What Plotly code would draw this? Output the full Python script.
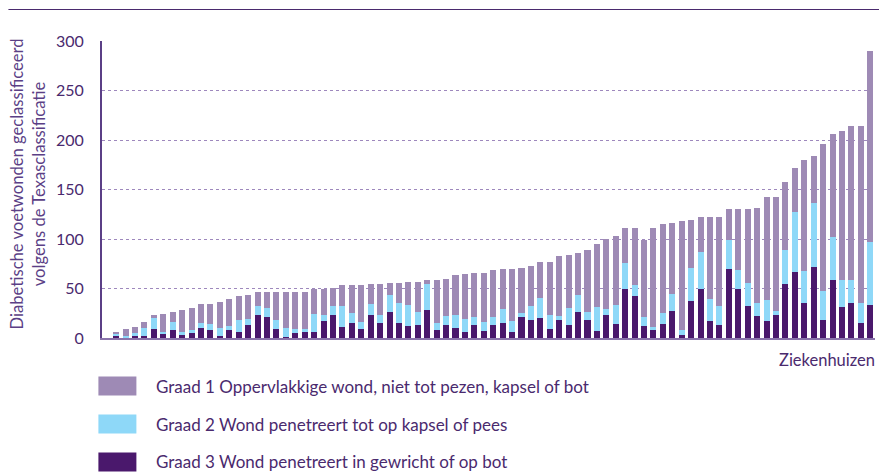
import plotly.graph_objects as go

# ziekenhuizen 1..81, gesorteerd op totaal
ziekenhuizen = [str(i) for i in range(1, 82)]

graad3 = [3, 0, 3, 2, 9, 5, 8, 4, 5, 10, 8, 2, 8, 6, 13, 23, 21, 9, 1, 5,
          6, 6, 17, 23, 11, 15, 9, 23, 15, 26, 15, 12, 13, 28, 8, 13, 10, 6, 13, 7,
          13, 15, 6, 21, 18, 20, 9, 18, 13, 26, 18, 7, 23, 14, 50, 42, 12, 8, 14, 27,
          3, 37, 49, 17, 13, 70, 49, 32, 22, 17, 23, 55, 67, 35, 72, 18, 59, 31, 35, 15,
          33]
graad2 = [2, 2, 2, 8, 11, 1, 8, 2, 3, 5, 6, 8, 4, 12, 6, 9, 9, 9, 9, 4,
          3, 18, 6, 9, 21, 10, 7, 11, 8, 17, 20, 21, 13, 27, 7, 9, 13, 13, 8, 9,
          8, 14, 11, 4, 14, 20, 14, 4, 17, 17, 8, 24, 6, 19, 26, 12, 9, 3, 11, 17,
          5, 34, 38, 22, 19, 29, 20, 24, 13, 21, 4, 34, 60, 33, 64, 29, 43, 28, 24, 20,
          64]
graad1 = [1, 7, 6, 6, 3, 18, 10, 22, 22, 19, 20, 26, 27, 24, 24, 14, 16, 28, 36, 37,
          37, 26, 27, 19, 22, 29, 38, 21, 32, 13, 21, 24, 31, 4, 44, 38, 41, 46, 45, 50,
          48, 41, 53, 46, 41, 37, 54, 61, 54, 43, 63, 64, 71, 70, 35, 57, 78, 100, 90, 72,
          110, 48, 35, 83, 90, 31, 61, 74, 96, 104, 115, 69, 45, 112, 48, 149, 104, 150, 155, 179,
          193]

reeksen = [
    ("Graad 3 Wond penetreert in gewricht of op bot", graad3, "#4a186c"),
    ("Graad 2 Wond penetreert tot op kapsel of pees", graad2, "#8ed8f8"),
    ("Graad 1 Oppervlakkige wond, niet tot pezen, kapsel of bot", graad1, "#9e8ab5"),
]

tekst_kleur = "#4a2a6e"
font_naam = "Lato"

W, H = 879, 473
L, R, T, B = 101.6, 874.7, 41, 338


def px(x):
    return (x - L) / (R - L)


def py(y):
    return (B - y) / (B - T)


fig = go.Figure()
for naam, waarden, kleur in reeksen:
    fig.add_trace(go.Bar(x=ziekenhuizen, y=waarden, name=naam,
                         marker_color=kleur, marker_line_width=0))

shapes = [
    dict(type="line", xref="paper", yref="paper", x0=px(8), x1=px(879),
         y0=py(9.5), y1=py(9.5), line=dict(color="#4a2a6e", width=1.2)),
]
annotations = [
    dict(text="Ziekenhuizen", xref="paper", yref="paper", x=px(877), y=py(360),
         xanchor="right", yanchor="middle", showarrow=False,
         font=dict(size=16.5, color=tekst_kleur, family=font_naam)),
    dict(text="Diabetische voetwonden geclassificeerd<br>volgens de Texasclassificatie",
         xref="paper", yref="paper", x=px(28), y=py(184), textangle=-90,
         xanchor="center", yanchor="middle", showarrow=False,
         font=dict(size=16.6, color="#5b3f86", family=font_naam)),
]

# legenda, volgorde graad 1, 2, 3
for i, (naam, waarden, kleur) in enumerate(reversed(reeksen)):
    yc = 386 + i * 38
    shapes.append(dict(type="rect", xref="paper", yref="paper",
                       x0=px(98), x1=px(136), y0=py(yc - 9.5), y1=py(yc + 9.5),
                       fillcolor=kleur, line_width=0))
    annotations.append(dict(text=naam, xref="paper", yref="paper", x=px(154), y=py(yc),
                            xanchor="left", yanchor="middle", showarrow=False,
                            font=dict(size=17, color=tekst_kleur, family=font_naam)))

fig.update_layout(
    width=W, height=H,
    margin=dict(l=L, r=W - R, t=T, b=H - B),
    barmode="stack", bargap=0.36,
    plot_bgcolor="white", paper_bgcolor="white",
    showlegend=False,
    font=dict(family=font_naam, color=tekst_kleur),
    shapes=shapes, annotations=annotations,
)
fig.update_xaxes(type="category", range=[-1.5, 80.5], showticklabels=False,
                 showgrid=False, zeroline=False, ticks="",
                 showline=True, linecolor="#8a74ab", linewidth=2)
fig.update_yaxes(range=[0, 300], tickvals=[0, 50, 100, 150, 200, 250, 300],
                 showgrid=True, gridcolor="#9e88bd", griddash="dot", gridwidth=1,
                 zeroline=False, showline=True, linecolor="#5b3f86", linewidth=2,
                 ticks="", ticklabelstandoff=13,
                 tickfont=dict(size=16, color=tekst_kleur, family=font_naam))

fig.write_html("out.html", config={"displayModeBar": False},
               post_script="document.body.style.margin='0';")
